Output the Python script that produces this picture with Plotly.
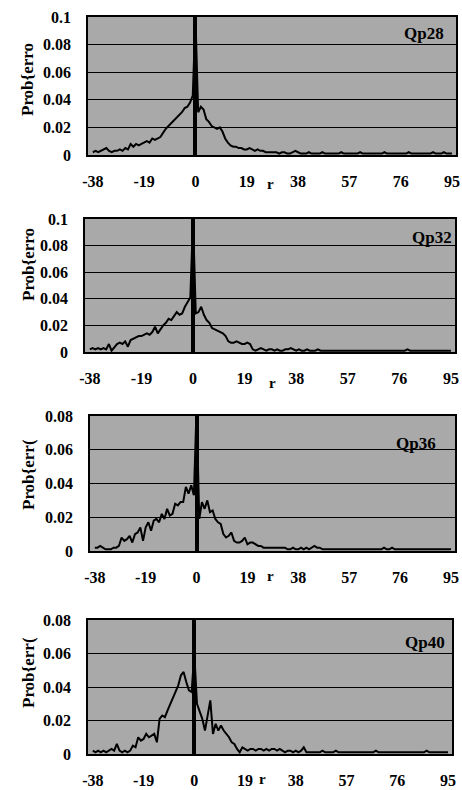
import plotly.graph_objects as go

r_values = list(range(-38, 96))

qp28 = [0.002, 0.003, 0.002, 0.003, 0.004, 0.005, 0.003, 0.002, 0.003, 0.003,
        0.004, 0.003, 0.005, 0.004, 0.008, 0.006, 0.008, 0.007, 0.008, 0.009,
        0.010, 0.009, 0.012, 0.011, 0.012, 0.013, 0.016, 0.019, 0.021, 0.023,
        0.025, 0.027, 0.029, 0.031, 0.034, 0.035, 0.038, 0.043, 0.100, 0.031,
        0.035, 0.033, 0.026, 0.024, 0.021, 0.020, 0.019, 0.020, 0.017, 0.012,
        0.009, 0.007, 0.006, 0.006, 0.005, 0.005, 0.004, 0.004, 0.005, 0.004,
        0.003, 0.004, 0.003, 0.003, 0.002, 0.002, 0.002, 0.002, 0.002, 0.001,
        0.002, 0.002, 0.001, 0.001, 0.002, 0.003, 0.002, 0.001, 0.001, 0.001,
        0.002, 0.001, 0.001, 0.001, 0.001, 0.002, 0.001, 0.001, 0.001, 0.001,
        0.001, 0.001, 0.002, 0.001, 0.001, 0.001, 0.001, 0.001, 0.001, 0.002,
        0.001, 0.001, 0.001, 0.001, 0.001, 0.001, 0.001, 0.001, 0.002, 0.001,
        0.001, 0.001, 0.001, 0.001, 0.001, 0.001, 0.001, 0.002, 0.001, 0.001,
        0.001, 0.001, 0.001, 0.001, 0.001, 0.001, 0.002, 0.001, 0.001, 0.001,
        0.002, 0.001, 0.001, 0.001]

qp32 = [0.002, 0.003, 0.002, 0.003, 0.002, 0.003, 0.002, 0.006, 0.001, 0.004,
        0.006, 0.007, 0.006, 0.008, 0.004, 0.009, 0.010, 0.011, 0.012, 0.012,
        0.013, 0.014, 0.013, 0.015, 0.019, 0.014, 0.017, 0.020, 0.022, 0.025,
        0.024, 0.027, 0.030, 0.028, 0.029, 0.034, 0.038, 0.041, 0.100, 0.029,
        0.030, 0.034, 0.028, 0.024, 0.022, 0.018, 0.017, 0.016, 0.015, 0.014,
        0.012, 0.008, 0.007, 0.007, 0.008, 0.007, 0.006, 0.006, 0.007, 0.006,
        0.002, 0.001, 0.002, 0.003, 0.002, 0.001, 0.002, 0.002, 0.001, 0.002,
        0.001, 0.001, 0.002, 0.002, 0.003, 0.002, 0.001, 0.002, 0.001, 0.001,
        0.002, 0.001, 0.001, 0.001, 0.002, 0.001, 0.001, 0.001, 0.001, 0.001,
        0.001, 0.001, 0.001, 0.001, 0.001, 0.001, 0.001, 0.001, 0.001, 0.001,
        0.001, 0.001, 0.001, 0.001, 0.001, 0.001, 0.001, 0.001, 0.001, 0.001,
        0.001, 0.001, 0.001, 0.001, 0.001, 0.001, 0.001, 0.002, 0.001, 0.001,
        0.001, 0.001, 0.001, 0.001, 0.001, 0.001, 0.001, 0.001, 0.001, 0.001,
        0.001, 0.001, 0.001, 0.001]

qp36 = [0.002, 0.002, 0.003, 0.002, 0.001, 0.001, 0.001, 0.002, 0.002, 0.003,
        0.008, 0.006, 0.007, 0.009, 0.005, 0.010, 0.011, 0.014, 0.006, 0.014,
        0.017, 0.012, 0.018, 0.019, 0.017, 0.022, 0.019, 0.025, 0.021, 0.022,
        0.028, 0.027, 0.029, 0.029, 0.038, 0.034, 0.039, 0.033, 0.085, 0.019,
        0.029, 0.025, 0.030, 0.023, 0.024, 0.019, 0.017, 0.016, 0.010, 0.008,
        0.009, 0.011, 0.006, 0.005, 0.005, 0.006, 0.008, 0.004, 0.005, 0.005,
        0.004, 0.003, 0.003, 0.002, 0.002, 0.002, 0.002, 0.002, 0.002, 0.002,
        0.002, 0.002, 0.001, 0.001, 0.002, 0.001, 0.001, 0.002, 0.001, 0.002,
        0.001, 0.002, 0.003, 0.002, 0.002, 0.001, 0.001, 0.001, 0.001, 0.001,
        0.001, 0.001, 0.001, 0.001, 0.001, 0.001, 0.001, 0.001, 0.001, 0.001,
        0.001, 0.001, 0.001, 0.001, 0.001, 0.001, 0.001, 0.001, 0.002, 0.001,
        0.001, 0.002, 0.001, 0.001, 0.001, 0.001, 0.001, 0.001, 0.001, 0.001,
        0.001, 0.001, 0.001, 0.001, 0.001, 0.001, 0.001, 0.001, 0.001, 0.001,
        0.001, 0.001, 0.001, 0.001]

qp40 = [0.002, 0.001, 0.002, 0.001, 0.002, 0.001, 0.002, 0.003, 0.002, 0.006,
        0.002, 0.001, 0.002, 0.001, 0.002, 0.005, 0.004, 0.010, 0.008, 0.009,
        0.012, 0.010, 0.011, 0.012, 0.007, 0.021, 0.023, 0.022, 0.026, 0.030,
        0.033, 0.037, 0.041, 0.047, 0.049, 0.043, 0.038, 0.037, 0.060, 0.030,
        0.026, 0.021, 0.014, 0.022, 0.032, 0.012, 0.018, 0.014, 0.017, 0.014,
        0.012, 0.010, 0.007, 0.006, 0.003, 0.001, 0.004, 0.003, 0.002, 0.003,
        0.003, 0.002, 0.003, 0.003, 0.002, 0.003, 0.002, 0.003, 0.003, 0.002,
        0.003, 0.002, 0.001, 0.002, 0.002, 0.001, 0.002, 0.001, 0.002, 0.004,
        0.001, 0.001, 0.001, 0.001, 0.001, 0.001, 0.002, 0.001, 0.001, 0.001,
        0.001, 0.002, 0.001, 0.001, 0.001, 0.001, 0.001, 0.001, 0.001, 0.001,
        0.001, 0.001, 0.001, 0.001, 0.001, 0.001, 0.002, 0.001, 0.001, 0.001,
        0.001, 0.001, 0.001, 0.001, 0.001, 0.001, 0.001, 0.001, 0.001, 0.001,
        0.001, 0.001, 0.001, 0.001, 0.001, 0.002, 0.001, 0.001, 0.001, 0.001,
        0.001, 0.001, 0.001, 0.001]

series_names = ["Qp28", "Qp32", "Qp36", "Qp40"]
series_values = [qp28, qp32, qp36, qp40]
y_max = [0.1, 0.1, 0.08, 0.08]
y_titles = ["Prob{erro", "Prob{erro", "Prob{err(", "Prob{err("]
x_tick_vals = [-38, -19, 0, 19, 38, 57, 76, 95]
x_tick_text = ["-38", "-19", "0", "19", "38", "57", "76", "95"]

W, H = 462, 790
# panel pixel boxes: left, right, top, bottom
boxes = [(88, 456, 17, 155), (85, 455, 219, 352), (90, 455, 416, 551), (88, 452, 620, 754)]
r_label_pos = [(270, 184), (272, 383), (270, 576), (262, 779)]
ytitle_pos = [(28, 80), (28, 265), (28, 475), (28, 673)]
qp_pos = [(424, 33), (432, 237), (416, 443), (425, 642)]

FONT = "Liberation Serif"
fig = go.Figure()
annotations = []
axes = {}
for i, (name, vals) in enumerate(zip(series_names, series_values)):
    n = i + 1
    xa = "x" if n == 1 else f"x{n}"
    ya = "y" if n == 1 else f"y{n}"
    fig.add_trace(go.Scatter(x=r_values, y=vals, mode="lines",
                             line=dict(color="black", width=2),
                             xaxis=xa, yaxis=ya, showlegend=False))
    l, rr, t, b = boxes[i]
    xkey = "xaxis" if n == 1 else f"xaxis{n}"
    ykey = "yaxis" if n == 1 else f"yaxis{n}"
    axes[xkey] = dict(domain=[l / W, rr / W], anchor=ya, automargin=False,
                      range=[-39.8, 96.5], tickmode="array",
                      tickvals=x_tick_vals, ticktext=x_tick_text,
                      showgrid=False, zeroline=True, zerolinecolor="black", zerolinewidth=3.5,
                      showline=True, linecolor="black", linewidth=1.5, mirror=True,
                      ticks="", ticklabelstandoff=11,
                      tickfont=dict(family=FONT, size=16, color="black", weight="bold"))
    axes[ykey] = dict(domain=[1 - b / H, 1 - t / H], anchor=xa, automargin=False,
                      range=[0, y_max[i]], tickmode="linear", dtick=0.02, tick0=0,
                      showgrid=True, gridcolor="#000000", gridwidth=1.4,
                      zeroline=False,
                      showline=True, linecolor="black", linewidth=1.5, mirror=True,
                      ticks="", ticklabelstandoff=12,
                      tickfont=dict(family=FONT, size=16, color="black", weight="bold"))
    rx, ry = r_label_pos[i]
    annotations.append(dict(text="<b>r</b>", x=rx / W, y=1 - ry / H, xref="paper", yref="paper",
                            xanchor="center", yanchor="middle",
                            showarrow=False, font=dict(family=FONT, size=15, color="black")))
    tx, ty = ytitle_pos[i]
    annotations.append(dict(text="<b>" + y_titles[i] + "</b>", x=tx / W, y=1 - ty / H,
                            xref="paper", yref="paper", xanchor="center", yanchor="middle",
                            showarrow=False, textangle=-90,
                            font=dict(family=FONT, size=17, color="black")))
    qx, qy = qp_pos[i]
    annotations.append(dict(text="<b>" + name + "</b>", x=qx / W, y=1 - qy / H,
                            xref="paper", yref="paper", xanchor="center", yanchor="middle",
                            showarrow=False,
                            font=dict(family=FONT, size=17, color="black")))

fig.update_layout(width=W, height=H, margin=dict(l=0, r=0, t=0, b=0, autoexpand=False),
                  paper_bgcolor="white", plot_bgcolor="#a9a9a9",
                  annotations=annotations, showlegend=False, **axes)
fig.write_html("out.html", config={"displayModeBar": False},
               post_script="document.body.style.margin='0px';")
